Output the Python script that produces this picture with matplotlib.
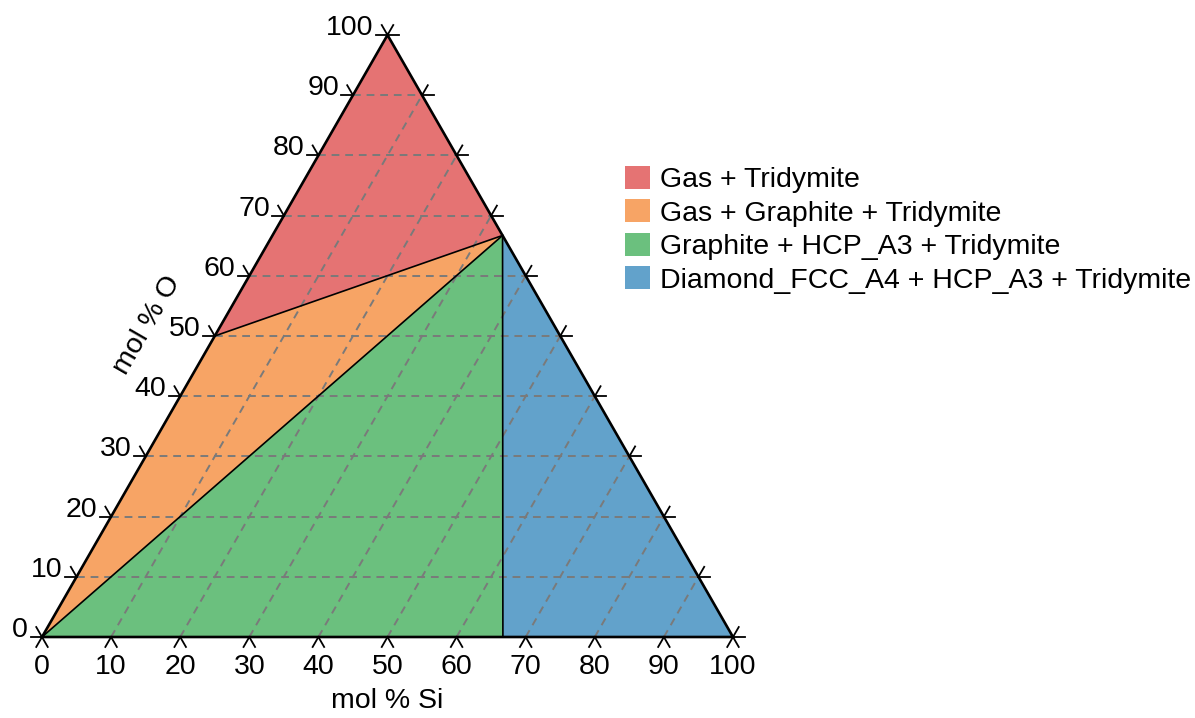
import numpy as np
import matplotlib.pyplot as plt
from matplotlib.patches import Patch

plt.rcParams['font.family'] = ['Liberation Sans', 'DejaVu Sans']

# tick values (mol %)
ticks = [0, 10, 20, 30, 40, 50, 60, 70, 80, 90, 100]

# phase regions, corners given as (mol % Si, mol % O)
region_names = ['Gas + Tridymite', 'Gas + Graphite + Tridymite',
                'Graphite + HCP_A3 + Tridymite', 'Diamond_FCC_A4 + HCP_A3 + Tridymite']
region_colors = ['#e57373', '#f7a465', '#6bc07e', '#62a2cb']
gas_trid_si = [0, 33.3, 0]
gas_trid_o = [100, 66.7, 50]
gas_graph_si = [0, 33.3, 0]
gas_graph_o = [50, 66.7, 0]
graph_hcp_si = [0, 33.3, 66.7]
graph_hcp_o = [0, 66.7, 0]
dia_hcp_si = [66.7, 33.3, 100]
dia_hcp_o = [0, 66.7, 0]
region_si = [gas_trid_si, gas_graph_si, graph_hcp_si, dia_hcp_si]
region_o = [gas_trid_o, gas_graph_o, graph_hcp_o, dia_hcp_o]

H = np.sqrt(3) / 2
FS = 20.5


def to_xy(si, o):
    si = np.asarray(si) / 100.0
    o = np.asarray(o) / 100.0
    return si + o / 2, o * H


fig = plt.figure(figsize=(11.95, 7.18), dpi=100)
ax = fig.add_axes([0, 0, 1, 1])
# map ternary coords to the pixel layout of the picture
sx = 691.0
sy = 602.0 / H
ax.set_xlim(-42 / sx, (1195 - 42) / sx)
ax.set_ylim(-(718 - 637) / sy, 637 / sy)
ax.axis('off')

for si, o, c in zip(region_si, region_o, region_colors):
    x, y = to_xy(si, o)
    ax.fill(x, y, color=c, lw=0, zorder=1)

# dashed grid: constant O and constant Si
for t in ticks[1:-1]:
    x, y = to_xy([0, 100 - t], [t, t])
    ax.plot(x, y, color='#7a7a7a', lw=1.4, ls=(0, (4, 3)), zorder=2)
    x, y = to_xy([t, t], [0, 100 - t])
    ax.plot(x, y, color='#7a7a7a', lw=1.4, ls=(0, (4, 3)), zorder=2)

# phase boundaries
for si, o in [([0, 33.3], [50, 66.7]), ([0, 33.3], [0, 66.7]), ([66.7, 33.3], [0, 66.7])]:
    x, y = to_xy(si, o)
    ax.plot(x, y, color='black', lw=1.2, zorder=3)

# triangle outline
x, y = to_xy([0, 100, 0, 0], [0, 0, 100, 0])
ax.plot(x, y, color='black', lw=1.9, zorder=4, solid_joinstyle='miter')

tl = 11.5 / sx
c60, s60 = 0.5, H
for t in ticks:
    # bottom axis (Si)
    x0, y0 = to_xy(t, 0)
    for dx, dy in [(-c60, -s60), (c60, -s60)]:
        ax.plot([x0, x0 + tl * dx], [y0, y0 + tl * dy * sx / sy], color='black', lw=1.3, zorder=5)
    ax.text(x0, y0 - 17 / sy, str(t), ha='center', va='top', fontsize=FS)
    # left axis (O)
    x0, y0 = to_xy(0, t)
    for dx, dy in [(-1, 0), (-c60, s60)]:
        ax.plot([x0, x0 + tl * dx], [y0, y0 + tl * dy * sx / sy], color='black', lw=1.3, zorder=5)
    ax.text(x0 - 14 / sx, y0 + 0 / sy, str(t), ha='right', va='baseline', fontsize=FS)
    # right axis
    x0, y0 = to_xy(t, 100 - t)
    for dx, dy in [(1, 0), (c60, s60)]:
        ax.plot([x0, x0 + tl * dx], [y0, y0 + tl * dy * sx / sy], color='black', lw=1.3, zorder=5)

ax.text(0.5, -64 / sy, 'mol % Si', ha='center', va='center', fontsize=FS)
ax.text((147 - 42) / sx, (637 - 325) / sy, 'mol % O', ha='center', va='center',
        rotation=60, rotation_mode='anchor', fontsize=FS)

handles = [Patch(facecolor=c, edgecolor='none') for c in region_colors]
fig.legend(handles, region_names, loc='upper left', bbox_to_anchor=(619 / 1195, 1 - 160 / 718),
           frameon=False, fontsize=FS, handlelength=0.88, handleheight=0.88,
           handletextpad=0.35, labelspacing=0.21, borderpad=0.2, borderaxespad=0)

fig.savefig('out.png', dpi=100)
